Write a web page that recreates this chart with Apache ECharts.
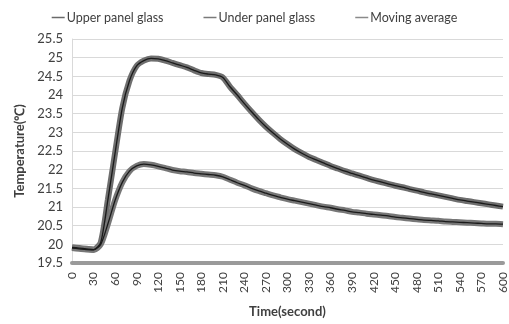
<!DOCTYPE html>
<html>
<head>
<meta charset="utf-8">
<title>Panel glass temperature</title>
<script src="https://cdn.jsdelivr.net/npm/echarts@6/dist/echarts.min.js"></script>
<style>
  html, body { margin: 0; padding: 0; background: #fff; }
  #chart { width: 509px; height: 324px; }
</style>
</head>
<body>
<div id="chart"></div>
<script>
// time stamps (second)
var timeSec = [0, 10, 20, 30, 40, 50, 60, 70, 80, 90, 100, 110, 120, 130, 140, 150, 160, 170, 180, 190,
  200, 210, 220, 230, 240, 250, 260, 270, 280, 290, 300, 310, 320, 330, 340, 350, 360, 370, 380, 390,
  400, 410, 420, 430, 440, 450, 460, 470, 480, 490, 500, 510, 520, 530, 540, 550, 560, 570, 580, 590, 600];

// 上层面板玻璃温度
var upperGlass = [19.92, 19.90, 19.88, 19.86, 20.05, 21.20, 22.45, 23.65, 24.38, 24.78, 24.92, 24.98, 24.97, 24.92, 24.86, 24.80, 24.74, 24.66, 24.59, 24.56,
  24.54, 24.47, 24.22, 24.00, 23.77, 23.55, 23.34, 23.15, 22.98, 22.82, 22.68, 22.55, 22.44, 22.34, 22.26, 22.18, 22.10, 22.03, 21.96, 21.90,
  21.84, 21.78, 21.72, 21.67, 21.62, 21.57, 21.53, 21.48, 21.44, 21.39, 21.35, 21.31, 21.27, 21.23, 21.19, 21.16, 21.13, 21.10, 21.07, 21.04, 21.01];

// 下层面板玻璃温度
var underGlass = [19.90, 19.88, 19.86, 19.85, 20.00, 20.55, 21.18, 21.66, 21.96, 22.10, 22.15, 22.13, 22.09, 22.04, 21.99, 21.96, 21.94, 21.91, 21.89, 21.87,
  21.85, 21.81, 21.73, 21.65, 21.58, 21.50, 21.43, 21.37, 21.31, 21.26, 21.21, 21.17, 21.13, 21.09, 21.05, 21.01, 20.98, 20.94, 20.91, 20.87,
  20.85, 20.82, 20.80, 20.78, 20.76, 20.73, 20.71, 20.69, 20.67, 20.65, 20.64, 20.63, 20.61, 20.60, 20.59, 20.58, 20.57, 20.56, 20.55, 20.55, 20.54];

var legendNames = ['Upper panel glass', 'Under panel glass', 'Moving average'];

function pairs(ys) {
  return ys.map(function (v, i) { return [timeSec[i], v]; });
}

var chart = echarts.init(document.getElementById('chart'), null, { renderer: 'canvas' });
var font = 'Lato, "Open Sans", sans-serif';

var option = {
  animation: false,
  backgroundColor: '#fff',
  textStyle: { fontFamily: font },
  legend: {
    data: legendNames,
    top: 6,
    left: 'center',
    itemGap: 40,
    itemWidth: 13,
    itemHeight: 1.5,
    icon: 'rect',
    textStyle: { fontFamily: font, fontSize: 12.5, color: '#404040', padding: [0, 0, 0, -3] }
  },
  grid: { left: 72, right: 6, top: 39, bottom: 61 },
  xAxis: {
    type: 'value',
    min: 0,
    max: 600,
    interval: 30,
    name: 'Time(second)',
    nameLocation: 'middle',
    nameGap: 42,
    nameTextStyle: { fontFamily: font, fontSize: 13, fontWeight: 'bold', color: '#404040' },
    axisLine: { show: true, lineStyle: { color: '#9a9a9a', width: 4 } },
    axisTick: { show: false },
    splitLine: { show: false },
    axisLabel: { rotate: 90, margin: 9, fontFamily: font, fontSize: 12, color: '#404040' }
  },
  yAxis: {
    type: 'value',
    min: 19.5,
    max: 25.5,
    interval: 0.5,
    name: 'Temperature(\u2103)',
    nameLocation: 'middle',
    nameGap: 45,
    nameTextStyle: { fontFamily: font, fontSize: 13, fontWeight: 'bold', color: '#404040' },
    axisLine: { show: true, lineStyle: { color: '#d9d9d9', width: 1 } },
    axisTick: { show: false },
    splitLine: { show: true, lineStyle: { color: '#d9d9d9', width: 1 } },
    axisLabel: { margin: 9, fontFamily: font, fontSize: 13, color: '#404040' }
  },
  series: [
    {
      name: 'Upper panel glass',
      type: 'line',
      data: pairs(upperGlass),
      showSymbol: false,
      smooth: 0.25,
      color: '#6a6a6a',
      lineStyle: { color: '#6e6e6e', width: 6 },
      z: 2
    },
    {
      name: 'Under panel glass',
      type: 'line',
      data: pairs(underGlass),
      showSymbol: false,
      smooth: 0.25,
      color: '#7a7a7a',
      lineStyle: { color: '#777777', width: 6 },
      z: 2
    },
    {
      name: 'Moving average',
      type: 'line',
      data: pairs(upperGlass),
      showSymbol: false,
      smooth: 0.25,
      color: '#8a8a8a',
      lineStyle: { color: '#1a1a1a', width: 1.3 },
      z: 3
    },
    {
      name: 'Moving average',
      type: 'line',
      data: pairs(underGlass),
      showSymbol: false,
      smooth: 0.25,
      color: '#8a8a8a',
      lineStyle: { color: '#1a1a1a', width: 1.3 },
      z: 3
    }
  ]
};

chart.setOption(option);
</script>
</body>
</html>
